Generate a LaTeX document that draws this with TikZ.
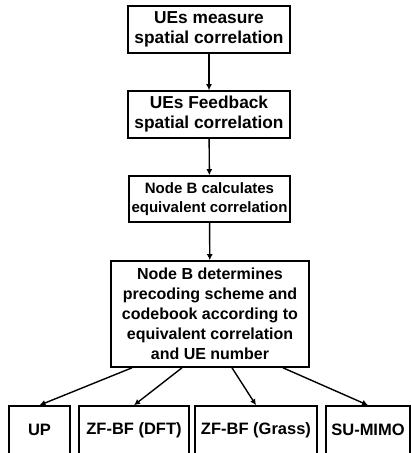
\documentclass[tikz,border=0pt]{standalone}
\usepackage{fontspec}
\setmainfont{Liberation Sans}
\usetikzlibrary{arrows.meta}
\begin{document}
\begin{tikzpicture}[x=1pt,y=-1pt,
    stepbox/.style={draw,line width=1.6pt,align=center,inner sep=0pt,
      font=\bfseries\fontsize{16.5}{20}\selectfont},
    flow/.style={line width=1.4pt,-{Latex[length=6pt,width=6pt]}}]
  \useasboundingbox (0,0) rectangle (411,453);
  \clip (0,0) rectangle (411,453);
  \draw
    (209,29.5) node[stepbox,minimum width=162pt,minimum height=47pt,
      font=\bfseries\fontsize{17.3}{20}\selectfont] (measure)
      {UEs measure\\spatial correlation}
    (209,114.5) node[stepbox,minimum width=162pt,minimum height=47pt,
      font=\bfseries\fontsize{17.3}{20}\selectfont] (feedback)
      {UEs Feedback\\spatial correlation}
    (209.5,199) node[stepbox,minimum width=161pt,minimum height=46pt,
      font=\bfseries\fontsize{15}{19}\selectfont] (calc)
      {Node B calculates\\equivalent correlation}
    (210,314) node[stepbox,minimum width=198pt,minimum height=106pt,
      font=\bfseries\fontsize{16}{20}\selectfont] (decide)
      {Node B determines\\precoding scheme and\\codebook according to\\equivalent correlation\\and UE number}
    (39.5,430) node[stepbox,minimum width=61pt,minimum height=48pt] (up) {UP}
    (134,430) node[stepbox,minimum width=110pt,minimum height=48pt] (dft) {ZF-BF (DFT)}
    (256,430) node[stepbox,minimum width=122pt,minimum height=48pt] (grass) {ZF-BF (Grass)}
    (368,430) node[stepbox,minimum width=84pt,minimum height=48pt] (sumimo) {SU-MIMO};
  \begin{scope}[flow]
    \draw (measure) to (feedback);
    \draw (feedback) to (calc);
    \draw (calc) to (decide);
    \draw ([xshift=-78pt]decide.south) to (up.north);
    \draw ([xshift=-28pt]decide.south) to (dft.north);
    \draw ([xshift=22pt]decide.south) to (grass.north);
    \draw ([xshift=73pt]decide.south) to (sumimo.north);
  \end{scope}
\end{tikzpicture}
\end{document}
